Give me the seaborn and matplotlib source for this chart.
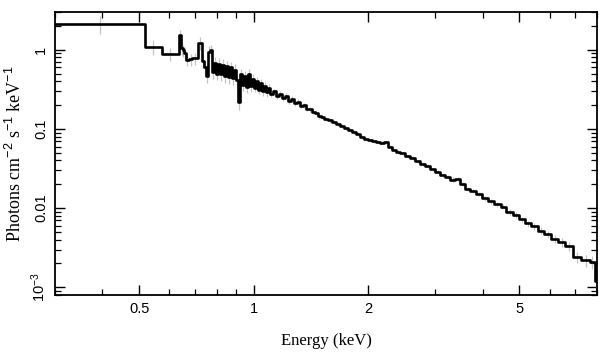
import matplotlib
matplotlib.use("Agg")
import matplotlib.pyplot as plt
import matplotlib.ticker as mticker
import numpy as np
import pandas as pd
import seaborn as sns

# ---- data ----
bin_edges_kev = [
    0.300, 0.516, 0.575, 0.634, 0.643, 0.650, 0.656, 0.663, 0.675, 0.690, 0.714,
    0.729, 0.738, 0.747, 0.756, 0.765, 0.775, 0.784, 0.794, 0.803, 0.813,
    0.823, 0.833, 0.843, 0.854, 0.864, 0.875, 0.885, 0.896, 0.907, 0.918,
    0.930, 0.941, 0.952, 0.964, 0.976, 0.988, 1.000,
    1.012, 1.025, 1.037, 1.050, 1.063, 1.076, 1.089, 1.102,
    1.123, 1.143, 1.164, 1.185, 1.207, 1.229, 1.252, 1.275, 1.298, 1.322,
    1.346, 1.371, 1.396, 1.422, 1.448, 1.474, 1.502, 1.529,
    1.567, 1.606, 1.645, 1.686, 1.727, 1.770, 1.813, 1.858, 1.904, 1.951, 2.000,
    2.05, 2.10, 2.15, 2.20, 2.26, 2.31, 2.37, 2.43, 2.50, 2.58, 2.66, 2.74,
    2.83, 2.91, 3.00, 3.09, 3.19, 3.29, 3.39, 3.49, 3.60, 3.71,
    3.85, 3.99, 4.14, 4.29, 4.46, 4.62, 4.80, 4.98, 5.16, 5.36,
    5.58, 5.82, 6.07, 6.33, 6.61, 6.93, 7.28, 7.65, 7.88, 8.00,
]

flux = [
    2.13, 1.10, 0.89, 1.52, 1.06, 0.98, 0.90, 0.75, 0.76, 0.78,
    1.22, 0.72, 0.60, 0.46, 0.95, 0.98, 0.52, 0.68, 0.50, 0.66,
    0.49, 0.64, 0.47, 0.62, 0.45, 0.60, 0.44, 0.56, 0.41, 0.22,
    0.50, 0.36, 0.47, 0.34, 0.50, 0.35, 0.43,
    0.33, 0.40, 0.31, 0.38, 0.30, 0.35, 0.29, 0.33,
    0.275, 0.30, 0.26, 0.28, 0.245, 0.26, 0.225, 0.24, 0.21, 0.22,
    0.195, 0.20, 0.18, 0.178, 0.165, 0.16, 0.145, 0.143,
    0.135, 0.128, 0.122, 0.116, 0.110, 0.104, 0.096, 0.092, 0.086, 0.080, 0.075,
    0.072, 0.071, 0.069, 0.067, 0.068, 0.060, 0.055, 0.051, 0.049, 0.045, 0.043, 0.039,
    0.036, 0.034, 0.031, 0.029, 0.0265, 0.025, 0.023, 0.0235, 0.020, 0.0175,
    0.0163, 0.0150, 0.0133, 0.0122, 0.0112, 0.0104, 0.0090, 0.0082, 0.0072, 0.0064,
    0.0059, 0.0052, 0.0047, 0.0041, 0.0037, 0.0033, 0.0024, 0.0022, 0.0021, 0.0012,
]

# fractional 1-sigma errors per bin (light grey bars)
flux_err_frac = [
    0.25, 0.22, 0.20, 0.18, 0.18, 0.18, 0.18, 0.18, 0.18, 0.18,
    0.18, 0.18, 0.18, 0.18, 0.18, 0.18, 0.18, 0.18, 0.18, 0.18,
    0.18, 0.18, 0.18, 0.18, 0.18, 0.18, 0.18, 0.18, 0.18, 0.20,
    0.16, 0.16, 0.16, 0.16, 0.16, 0.16, 0.16,
    0.12, 0.12, 0.12, 0.12, 0.12, 0.12, 0.12, 0.12,
    0.08, 0.08, 0.08, 0.08, 0.08, 0.08, 0.08, 0.08, 0.08, 0.08,
    0.07, 0.07, 0.07, 0.07, 0.07, 0.07, 0.07, 0.07,
    0.06, 0.06, 0.06, 0.06, 0.06, 0.06, 0.06, 0.06, 0.06, 0.06, 0.06,
    0.05, 0.05, 0.05, 0.05, 0.05, 0.05, 0.05, 0.05, 0.05, 0.05, 0.05, 0.05,
    0.05, 0.05, 0.05, 0.05, 0.06, 0.06, 0.06, 0.06, 0.06, 0.06,
    0.06, 0.06, 0.07, 0.07, 0.07, 0.07, 0.08, 0.08, 0.08, 0.09,
    0.10, 0.10, 0.11, 0.12, 0.13, 0.14, 0.16, 0.18, 0.20, 0.25,
]

x_tick_values = [0.5, 1, 2, 5]
x_tick_labels = ["0.5", "1", "2", "5"]
y_tick_values = [1e-3, 0.01, 0.1, 1]
y_tick_labels = [r"10$^{-3}$", "0.01", "0.1", "1"]

assert len(flux) == len(bin_edges_kev) - 1 == len(flux_err_frac)

# ---- figure ----
sns.set_theme(style="ticks")
plt.rcParams["font.family"] = ["Liberation Sans", "DejaVu Sans"]
plt.rcParams["mathtext.fontset"] = "custom"
plt.rcParams["mathtext.rm"] = "Liberation Sans"
plt.rcParams["mathtext.it"] = "Liberation Sans:italic"

fig = plt.figure(figsize=(6.09, 3.57), dpi=100)
ax = fig.add_axes([55 / 609, 1 - 295 / 357, 542 / 609, 283 / 357])

edges = np.array(bin_edges_kev)
vals = np.array(flux)
centers = np.sqrt(edges[:-1] * edges[1:])
err = vals * np.array(flux_err_frac)

ax.errorbar(centers, vals, yerr=err, fmt="none", ecolor="#c4c4c4",
            elinewidth=0.9, capsize=0, zorder=1)

df = pd.DataFrame({"energy": edges, "flux": np.append(vals, vals[-1])})
sns.lineplot(data=df, x="energy", y="flux", ax=ax, color="black",
             linewidth=1.9, drawstyle="steps-post", estimator=None,
             sort=False, zorder=3)

ax.set_xscale("log")
ax.set_yscale("log")
ax.set_xlim(0.3, 8.0)
ax.set_ylim(8.0e-4, 3.0)

ax.xaxis.set_major_locator(mticker.FixedLocator(x_tick_values))
ax.xaxis.set_major_formatter(mticker.FixedFormatter(x_tick_labels))
ax.xaxis.set_minor_locator(mticker.LogLocator(base=10, subs=np.arange(2, 10)))
ax.xaxis.set_minor_formatter(mticker.NullFormatter())
ax.yaxis.set_major_locator(mticker.FixedLocator(y_tick_values))
ax.yaxis.set_major_formatter(mticker.FixedFormatter(y_tick_labels))
ax.yaxis.set_minor_locator(mticker.LogLocator(base=10, subs=np.arange(2, 10), numticks=20))
ax.yaxis.set_minor_formatter(mticker.NullFormatter())

ax.tick_params(which="both", direction="in", top=True, right=True,
               color="black", labelsize=10.5, labelcolor="black")
ax.tick_params(which="major", length=7, width=1.0, pad=5)
ax.tick_params(which="minor", length=4, width=0.9)
for lab in ax.get_yticklabels():
    lab.set_rotation(90)
    lab.set_va("center")

for s in ax.spines.values():
    s.set_visible(True)
    s.set_linewidth(1.3)
    s.set_color("black")

ax.set_xlabel("Energy (keV)", family=["Liberation Serif", "DejaVu Serif"],
              fontsize=12, labelpad=12, color="black")
ax.set_ylabel(r"Photons cm$^{-2}$ s$^{-1}$ keV$^{-1}$",
              family=["Liberation Serif", "DejaVu Serif"],
              fontsize=13, labelpad=3, color="black")
ax.grid(False)

fig.savefig("out.png", dpi=100)
